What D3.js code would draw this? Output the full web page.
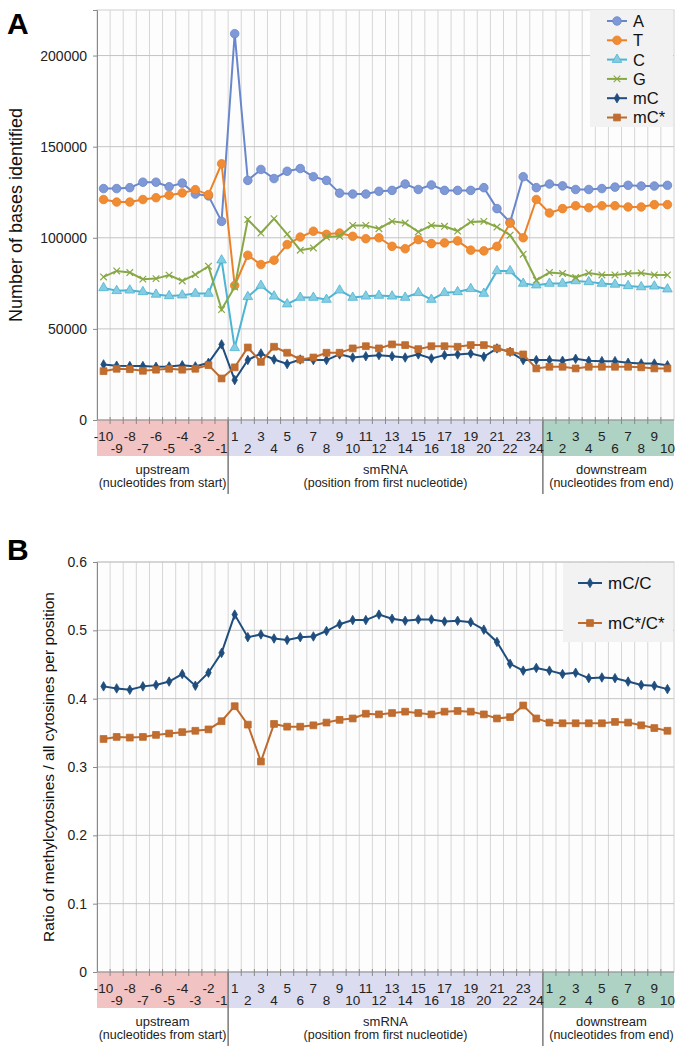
<!DOCTYPE html>
<html>
<head>
<meta charset="utf-8">
<script src="https://cdn.jsdelivr.net/npm/d3@7"></script>
<style>
  body { margin: 0; background: #fff; }
  svg { display: block; font-family: "Liberation Sans", Arial, sans-serif; }
</style>
</head>
<body>
<svg id="chart" width="684" height="1050"></svg>
<script>
// category labels along the x axis
const upstreamLabels = ["-10", "-9", "-8", "-7", "-6", "-5", "-4", "-3", "-2", "-1"];
const smrnaLabels = d3.range(1, 25).map(String);
const downstreamLabels = d3.range(1, 11).map(String);
const categories = [...upstreamLabels, ...smrnaLabels, ...downstreamLabels];

const groupNames = ["upstream", "smRNA", "downstream"];
const groupSubs = ["(nucleotides from start)", "(position from first nucleotide)", "(nucleotides from end)"];
const groupSizes = [upstreamLabels.length, smrnaLabels.length, downstreamLabels.length];

// panel A - number of bases identified
const countA = [127000, 127000, 127500, 130500, 130500, 128000, 130000, 124000, 123000, 109000,
  212000, 131500, 137500, 132500, 136500, 138000, 133500, 131500, 124500, 124000, 124000, 125500,
  126000, 129500, 126500, 129000, 126000, 126000, 126000, 127500, 116000, 108500, 133500, 127500,
  129500, 128500, 126500, 126500, 127000, 127800, 128800, 128400, 128400, 128800];
const countT = [121000, 119600, 119600, 121000, 122000, 123300, 124600, 126400, 123700, 140600,
  73800, 90400, 85300, 87700, 96300, 100400, 103600, 101900, 102600, 100800, 99500, 100000,
  95300, 94000, 99000, 96800, 97200, 98300, 93200, 92800, 95300, 108000, 100000, 121000,
  113600, 116000, 117600, 116500, 117600, 117600, 116900, 116900, 118200, 118200];
const countC = [72500, 70900, 71200, 70300, 68900, 68100, 68500, 69400, 69400, 87700,
  39600, 67600, 73800, 67900, 63600, 67200, 67200, 66100, 71200, 67200, 67900, 68300,
  67900, 67200, 69800, 66100, 69800, 70300, 72000, 69400, 81800, 81800, 74900, 74000,
  74900, 74900, 76300, 75800, 74900, 74400, 73600, 73000, 73400, 71800];
const countG = [78500, 81800, 80900, 77300, 77600, 79500, 76300, 79800, 84400, 60600,
  73000, 110000, 102600, 110500, 102000, 93200, 94400, 100400, 100800, 106800, 106800, 105000,
  109000, 108100, 103200, 106800, 106300, 103700, 108700, 109000, 105900, 101400, 91000, 76700,
  80900, 80400, 78200, 80700, 79600, 79600, 80400, 80700, 79600, 79600];
const countMC = [30500, 29800, 29600, 29600, 29200, 29400, 30000, 29400, 31400, 41500,
  21900, 32900, 36500, 33200, 30700, 33200, 32900, 32900, 36000, 34300, 35000, 35600,
  35000, 34300, 36000, 33800, 35600, 36000, 36500, 34700, 39300, 37400, 32900, 32900,
  32900, 32500, 33600, 32500, 32300, 32300, 31400, 31000, 31000, 30000];
const countMCstar = [26800, 28100, 27900, 27000, 27600, 28100, 27600, 28100, 30100, 22800,
  28900, 39800, 31900, 40200, 36900, 33200, 34300, 36900, 36900, 39300, 40500, 39300,
  41500, 41100, 38900, 40500, 40500, 40200, 41100, 41100, 39300, 37400, 36000, 28300,
  29200, 29200, 28300, 29200, 29200, 29200, 29200, 28900, 28300, 28300];

// panel B - ratio of methylcytosines
const ratioMC = [0.418, 0.415, 0.413, 0.418, 0.420, 0.425, 0.436, 0.419, 0.438, 0.467,
  0.523, 0.490, 0.494, 0.488, 0.486, 0.490, 0.491, 0.499, 0.509, 0.515, 0.515, 0.523,
  0.517, 0.514, 0.516, 0.516, 0.513, 0.514, 0.512, 0.501, 0.483, 0.451, 0.441, 0.445,
  0.441, 0.436, 0.438, 0.430, 0.431, 0.430, 0.425, 0.420, 0.419, 0.414];
const ratioMCstar = [0.341, 0.344, 0.343, 0.344, 0.347, 0.349, 0.351, 0.353, 0.355, 0.367,
  0.389, 0.362, 0.308, 0.363, 0.359, 0.359, 0.361, 0.365, 0.369, 0.371, 0.378, 0.377,
  0.379, 0.381, 0.379, 0.377, 0.381, 0.382, 0.381, 0.377, 0.371, 0.373, 0.390, 0.371,
  0.365, 0.364, 0.364, 0.364, 0.364, 0.366, 0.365, 0.361, 0.357, 0.353];

const countTicks = [0, 50000, 100000, 150000, 200000];
const ratioTicks = [0, 0.1, 0.2, 0.3, 0.4, 0.5, 0.6];

const bandColors = ["#f1c3c3", "#dcdcf1", "#aed2c4"];

const svg = d3.select("#chart");
const x = d3.scaleBand().domain(d3.range(categories.length)).range([97, 674]);
const cx = (i) => x(i) + x.bandwidth() / 2;

function marker(g, type, color, fill, px, py) {
  const sym = {
    circle: d3.symbolCircle, triangle: d3.symbolTriangle, times: d3.symbolTimes,
    diamond: d3.symbolDiamond, square: d3.symbolSquare
  }[type];
  const size = { circle: 58, triangle: 40, times: 30, diamond: 26, square: 46 }[type];
  g.append("path")
    .attr("d", d3.symbol(sym, size)())
    .attr("transform", `translate(${px},${py})`)
    .attr("fill", type === "times" ? "none" : fill)
    .attr("stroke", color)
    .attr("stroke-width", type === "times" ? 1.2 : 0.8);
}

function drawPanel(opts) {
  const { top, bottom, domain, ticks, format, series, label, labelX, letter, letterY, legend } = opts;
  const y = d3.scaleLinear().domain(domain).range([bottom, top]);
  const g = svg.append("g");
  const [x0, x1] = x.range();

  g.append("rect").attr("x", x0).attr("y", top).attr("width", x1 - x0).attr("height", bottom - top)
    .attr("fill", "#fdfdfd").attr("stroke", "#cfcfcf");

  // vertical grid at category boundaries
  g.append("g").selectAll("line").data(d3.range(1, categories.length)).join("line")
    .attr("x1", (i) => x(i)).attr("x2", (i) => x(i))
    .attr("y1", top).attr("y2", bottom)
    .attr("stroke", "#d6d6d6");

  // horizontal grid
  g.append("g").selectAll("line").data(ticks.slice(1)).join("line")
    .attr("x1", x0).attr("x2", x1)
    .attr("y1", (d) => y(d)).attr("y2", (d) => y(d))
    .attr("stroke", "#c4c4c4");

  // y axis
  const yAxis = g.append("g").attr("transform", `translate(${x0},0)`)
    .call(d3.axisLeft(y).tickValues(ticks).tickFormat(format).tickSize(4).tickPadding(6));
  yAxis.select(".domain").attr("stroke", "#8a8a8a");
  yAxis.selectAll(".tick line").attr("stroke", "#8a8a8a");
  yAxis.selectAll("text").attr("font-size", 14).attr("fill", "#222")
    .attr("font-family", "Liberation Sans, Arial, sans-serif");

  // category bands under the axis
  let start = 0;
  groupSizes.forEach((n, k) => {
    const gx0 = x(start), gx1 = start + n < categories.length ? x(start + n) : x1;
    const mid = (gx0 + gx1) / 2 + (k === 2 ? 3 : 0);
    g.append("rect").attr("x", gx0).attr("y", bottom).attr("width", gx1 - gx0).attr("height", 36)
      .attr("fill", bandColors[k]);
    g.append("text").attr("x", mid).attr("y", bottom + 54)
      .attr("text-anchor", "middle").attr("font-size", 13).attr("fill", "#222").text(groupNames[k]);
    g.append("text").attr("x", mid).attr("y", bottom + 67)
      .attr("text-anchor", "middle").attr("font-size", 12.5).attr("fill", "#222").text(groupSubs[k]);
    if (k > 0) {
      g.append("line").attr("x1", gx0).attr("x2", gx0).attr("y1", bottom).attr("y2", bottom + 74)
        .attr("stroke", "#7a7a7a").attr("stroke-width", 1.5);
    }
    start += n;
  });

  // x tick marks and axis line
  g.append("g").selectAll("line").data(d3.range(1, categories.length)).join("line")
    .attr("x1", (i) => x(i)).attr("x2", (i) => x(i))
    .attr("y1", bottom - 3).attr("y2", bottom + 4)
    .attr("stroke", "#8a8a8a");
  g.append("line").attr("x1", x0).attr("x2", x1).attr("y1", bottom).attr("y2", bottom)
    .attr("stroke", "#8a8a8a").attr("stroke-width", 1.2);

  g.append("g").selectAll("text").data(categories).join("text")
    .attr("x", (d, i) => cx(i))
    .attr("y", (d, i) => bottom + (i % 2 === 0 ? 21 : 33))
    .attr("text-anchor", "middle").attr("font-size", 13.5).attr("fill", "#222")
    .text((d) => d);

  // series
  const line = d3.line().x((d, i) => cx(i)).y((d) => y(d));
  series.forEach((s) => {
    const sg = g.append("g");
    sg.append("path").datum(s.values).attr("d", line)
      .attr("fill", "none").attr("stroke", s.color).attr("stroke-width", 2);
    s.values.forEach((v, i) => marker(sg, s.shape, s.color, s.fill, cx(i), y(v)));
  });

  // legend
  g.append("rect").attr("x", legend.x).attr("y", legend.y).attr("width", x1 - 1 - legend.x)
    .attr("height", legend.h).attr("fill", "#f2f2f2");
  series.forEach((s, k) => {
    const ly = legend.y + legend.first + k * legend.step;
    g.append("line").attr("x1", legend.lx).attr("x2", legend.lx + legend.lw)
      .attr("y1", ly).attr("y2", ly).attr("stroke", s.color).attr("stroke-width", 2);
    marker(g, s.shape, s.color, s.fill, legend.lx + legend.lw / 2, ly);
    g.append("text").attr("x", legend.lx + legend.lw + 6).attr("y", ly + legend.fs * 0.36)
      .attr("font-size", legend.fs).attr("fill", "#111").text(s.name);
  });

  // y label and panel letter
  g.append("text")
    .attr("transform", `translate(${labelX},${(top + bottom) / 2}) rotate(-90)`)
    .attr("text-anchor", "middle").attr("font-size", opts.labelSize).attr("fill", "#111")
    .text(label);
  g.append("text").attr("x", 7).attr("y", letterY).attr("font-size", 30)
    .attr("font-weight", "bold").attr("fill", "#000").text(letter);
}

drawPanel({
  top: 10, bottom: 420, domain: [0, 225000], ticks: countTicks, format: d3.format("d"),
  label: "Number of bases identified", labelX: 22, labelSize: 18, letter: "A", letterY: 34,
  legend: { x: 590, y: 10, h: 117, first: 11, step: 19.3, lx: 607, lw: 20, fs: 16.5 },
  series: [
    { name: "A", values: countA, color: "#6a87cb", fill: "#7f99d6", shape: "circle" },
    { name: "T", values: countT, color: "#ec8227", fill: "#ef8c34", shape: "circle" },
    { name: "C", values: countC, color: "#4db4d3", fill: "#86cde2", shape: "triangle" },
    { name: "G", values: countG, color: "#88a845", fill: "none", shape: "times" },
    { name: "mC", values: countMC, color: "#1f4d7d", fill: "#1f4d7d", shape: "diamond" },
    { name: "mC*", values: countMCstar, color: "#bd6a2c", fill: "#c06d2f", shape: "square" }
  ]
});

drawPanel({
  top: 562, bottom: 972, domain: [0, 0.6], ticks: ratioTicks, format: (d) => d === 0 ? "0" : d3.format(".1f")(d),
  label: "Ratio of methylcytosines / all cytosines per position", labelX: 54, labelSize: 15.5,
  letter: "B", letterY: 560,
  legend: { x: 563, y: 563, h: 79, first: 20, step: 40, lx: 578, lw: 24, fs: 17 },
  series: [
    { name: "mC/C", values: ratioMC, color: "#1f4d7d", fill: "#1f4d7d", shape: "diamond" },
    { name: "mC*/C*", values: ratioMCstar, color: "#bd6a2c", fill: "#c06d2f", shape: "square" }
  ]
});
</script>
</body>
</html>
